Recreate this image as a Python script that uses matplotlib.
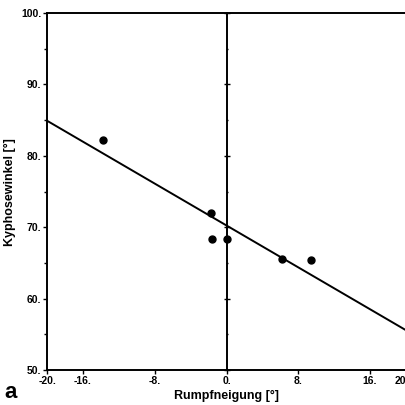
import numpy as np
import matplotlib
matplotlib.use('Agg')
import matplotlib.pyplot as plt

plt.rcParams['font.family'] = ['Liberation Sans', 'DejaVu Sans']

rumpfneigung = [-13.8, -1.7, -1.6, 0.0, 6.2, 9.4]
kyphosewinkel = [82.2, 72.0, 68.4, 68.4, 65.6, 65.4]

# Regressionsgerade
fit_slope = -0.733
fit_intercept = 70.25

x_ticks = [-20, -16, -8, 0, 8, 16, 20]
x_labels = ['-20.', '-16.', '-8.', '0.', '8.', '16.', '20']
y_ticks = [50, 60, 70, 80, 90, 100]
y_labels = ['50.', '60.', '70.', '80.', '90.', '100.']

fig = plt.figure(figsize=(4.06, 4.05), dpi=100)
ax = fig.add_axes([0.116, 0.086, 0.884, 0.882])

# Gerade
x_line = np.array([-20, 20])
ax.plot(x_line, fit_intercept + fit_slope * x_line, color='black', lw=1.4)

# Punkte
ax.plot(rumpfneigung, kyphosewinkel, 'o', color='black', markersize=5)

# senkrechte Achse bei x = 0
ax2 = ax.twinx()
ax2.set_ylim(50, 100)
for s in ['top', 'bottom', 'right']:
    ax2.spines[s].set_visible(False)
ax2.spines['left'].set_position(('data', 0))
ax2.spines['left'].set_linewidth(1.4)
ax2.yaxis.set_ticks_position('left')
ax2.set_yticks(y_ticks)
ax2.set_yticks(np.arange(50, 101, 5), minor=True)
ax2.tick_params(axis='y', which='both', direction='inout', length=4, labelleft=False, labelright=False, width=1)
ax2.tick_params(axis='y', which='minor', length=2)

ax.set_xlim(-20, 20)
ax.set_ylim(50, 100)
ax.set_xticks(x_ticks)
ax.set_xticklabels(x_labels)
ax.set_yticks(y_ticks)
ax.set_yticklabels(y_labels)
ax.set_yticks(np.arange(50, 101, 5), minor=True)
ax.tick_params(which='both', direction='out', length=3, width=1, labelsize=7.5, pad=1)
ax.tick_params(which='minor', length=2)
for lab in ax.get_xticklabels() + ax.get_yticklabels():
    lab.set_fontweight('bold')
# letzte Beschriftung am Rand
ax.get_xticklabels()[-1].set_horizontalalignment('right')

for s in ['left', 'bottom', 'top']:
    ax.spines[s].set_linewidth(1.4)
ax.spines['right'].set_visible(False)

ax.set_xlabel('Rumpfneigung [°]', fontsize=9, fontweight='bold', labelpad=3)
ax.set_ylabel('Kyphosewinkel [°]', fontsize=9, fontweight='bold', labelpad=4)

fig.text(0.012, 0.018, 'a', fontsize=16, fontweight='bold')

fig.savefig('out.png', dpi=100)
